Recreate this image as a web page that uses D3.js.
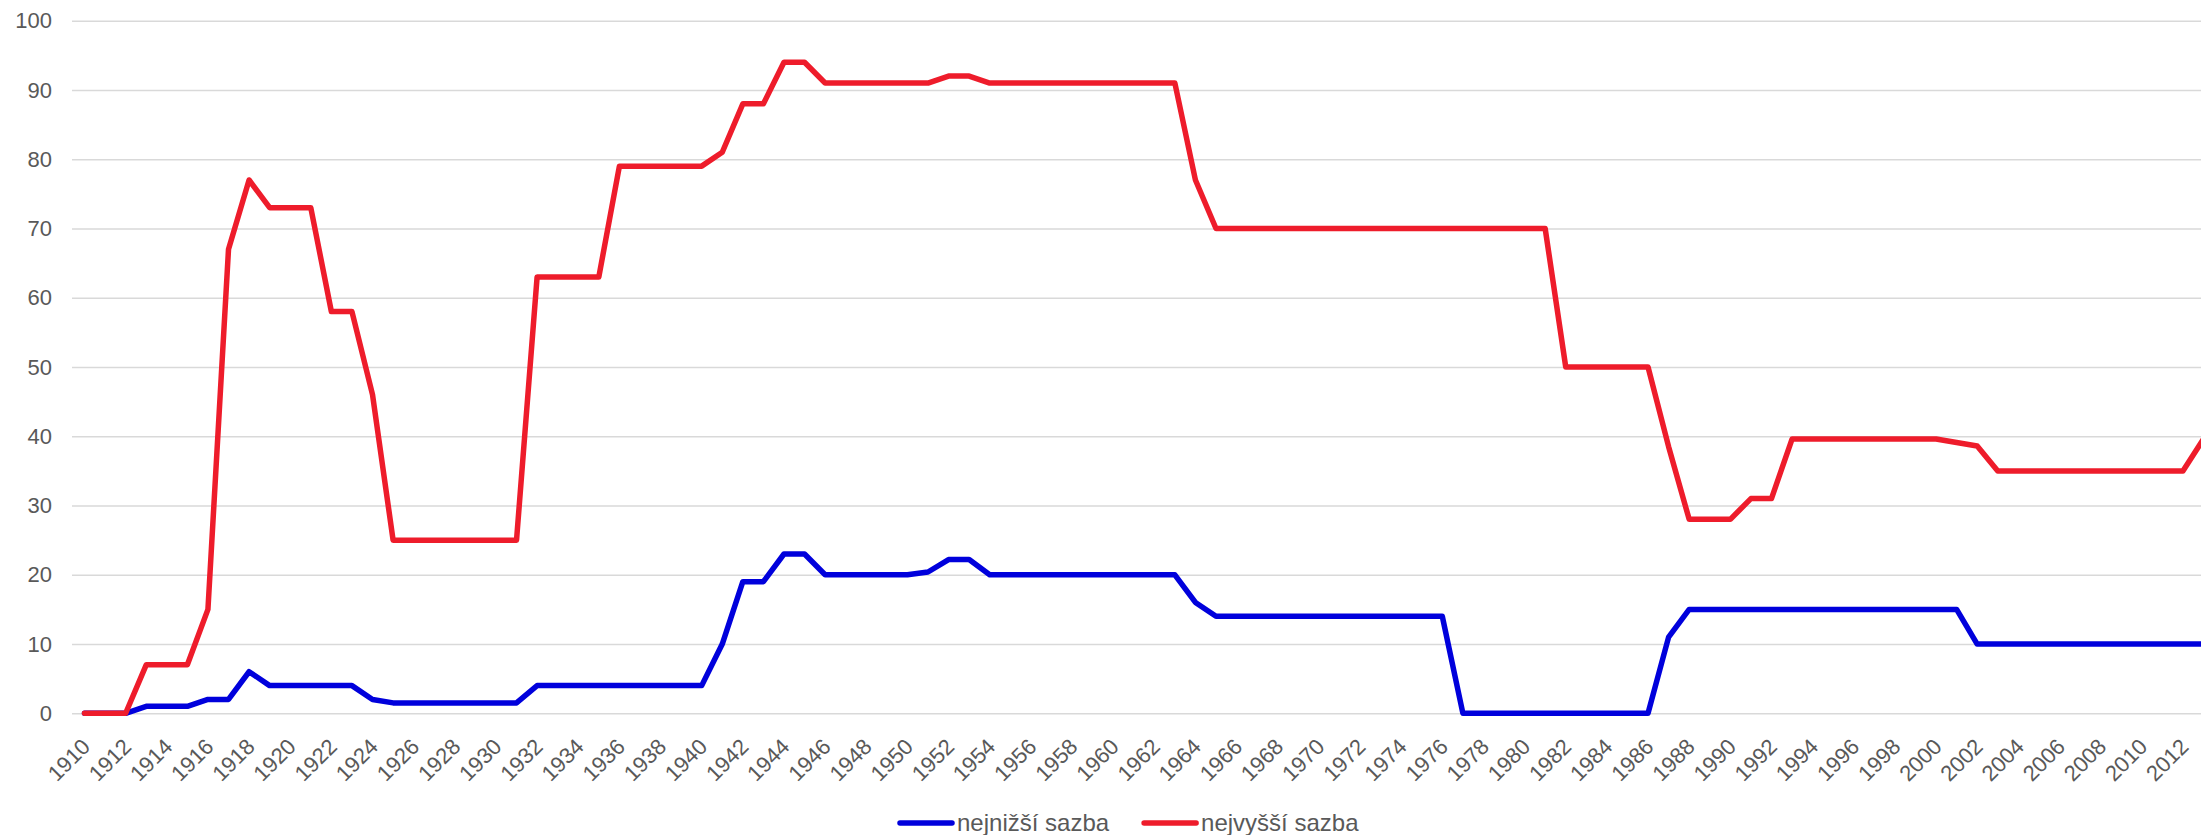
<!DOCTYPE html>
<html>
<head>
  <meta charset="UTF-8">
  <script src="https://d3js.org/d3.v7.js"></script>
  <style>
    body { margin: 0; background: #fff; }
    text { font-family: "Liberation Sans", Arial, sans-serif; fill: #595959; }
  </style>
</head>
<body>
  <div id="chart"></div>

  <script>
    // data

    const years = d3.range(1910, 2014);

    const lowest = [
      0, 0, 0, 1, 1, 1, 2, 2, 6, 4,            // 1910-1919
      4, 4, 4, 4, 2, 1.5, 1.5, 1.5, 1.5, 1.5,  // 1920-1929
      1.5, 1.5, 4, 4, 4, 4, 4, 4, 4, 4,        // 1930-1939
      4, 10, 19, 19, 23, 23, 20, 20, 20, 20,   // 1940-1949
      20, 20.4, 22.2, 22.2, 20, 20, 20, 20, 20, 20, // 1950-1959
      20, 20, 20, 20, 16, 14, 14, 14, 14, 14,  // 1960-1969
      14, 14, 14, 14, 14, 14, 14, 0, 0, 0,     // 1970-1979
      0, 0, 0, 0, 0, 0, 0, 11, 15, 15,         // 1980-1989
      15, 15, 15, 15, 15, 15, 15, 15, 15, 15,  // 1990-1999
      15, 15, 10, 10, 10, 10, 10, 10, 10, 10,  // 2000-2009
      10, 10, 10, 10                           // 2010-2013
    ];

    const highest = [
      0, 0, 0, 7, 7, 7, 15, 67, 77, 73,        // 1910-1919
      73, 73, 58, 58, 46, 25, 25, 25, 25, 25,  // 1920-1929
      25, 25, 63, 63, 63, 63, 79, 79, 79, 79,  // 1930-1939
      79, 81, 88, 88, 94, 94, 91, 91, 91, 91,  // 1940-1949
      91, 91, 92, 92, 91, 91, 91, 91, 91, 91,  // 1950-1959
      91, 91, 91, 91, 77, 70, 70, 70, 70, 70,  // 1960-1969
      70, 70, 70, 70, 70, 70, 70, 70, 70, 70,  // 1970-1979
      70, 70, 50, 50, 50, 50, 50, 38.5, 28, 28, // 1980-1989
      28, 31, 31, 39.6, 39.6, 39.6, 39.6, 39.6, 39.6, 39.6, // 1990-1999
      39.6, 39.1, 38.6, 35, 35, 35, 35, 35, 35, 35, // 2000-2009
      35, 35, 35, 39.6                         // 2010-2013
    ];

    const seriesNames = ['nejnižší sazba', 'nejvyšší sazba'];
    const seriesColors = ['#0000dc', '#ee1c2b'];
    const yTicks = d3.range(0, 101, 10);

    // set up

    const width = 2201;
    const height = 835;

    const svg = d3.select('#chart')
      .append('svg')
        .attr('width', width)
        .attr('height', height);

    // scales

    const x = d3.scalePoint()
        .domain(years)
        .range([84.5, 2203.5]);

    const y = d3.scaleLinear()
        .domain([0, 100])
        .range([713.3, 20.7]);

    // grid + y labels

    const yAxis = d3.axisLeft(y)
        .tickValues(yTicks)
        .tickSize(-(2216 - 72))
        .tickPadding(20);

    svg.append('g')
        .attr('transform', 'translate(72,0)')
        .call(yAxis)
        .call(g => g.select('.domain').remove())
        .call(g => g.selectAll('line').attr('stroke', '#d9d9d9').attr('stroke-width', 1.5))
        .call(g => g.selectAll('text').style('font-size', '22px').attr('fill', '#595959'));

    // x labels, every second year, rotated

    svg.append('g')
      .selectAll('text')
      .data(years.filter(d => d % 2 === 0))
      .join('text')
        .attr('text-anchor', 'end')
        .attr('transform', d => `translate(${x(d) + 7},748) rotate(-45)`)
        .style('font-size', '22px')
        .text(d => d);

    // lines

    const line = d3.line()
        .x((d, i) => x(years[i]))
        .y(d => y(d));

    svg.append('g')
      .selectAll('path')
      .data([lowest, highest])
      .join('path')
        .attr('fill', 'none')
        .attr('stroke', (d, i) => seriesColors[i])
        .attr('stroke-width', 5.5)
        .attr('stroke-linejoin', 'round')
        .attr('stroke-linecap', 'round')
        .attr('d', line);

    // legend

    const legend = svg.append('g')
        .attr('transform', 'translate(900,823)');

    let lx = 0;
    seriesNames.forEach((name, i) => {
      legend.append('line')
          .attr('x1', lx).attr('x2', lx + 52)
          .attr('y1', 0).attr('y2', 0)
          .attr('stroke', seriesColors[i])
          .attr('stroke-width', 5.5)
          .attr('stroke-linecap', 'round');
      const t = legend.append('text')
          .attr('x', lx + 57)
          .attr('y', 8)
          .style('font-size', '24px')
          .text(name);
      lx += 57 + t.node().getComputedTextLength() + 35;
    });
  </script>
</body>
</html>
